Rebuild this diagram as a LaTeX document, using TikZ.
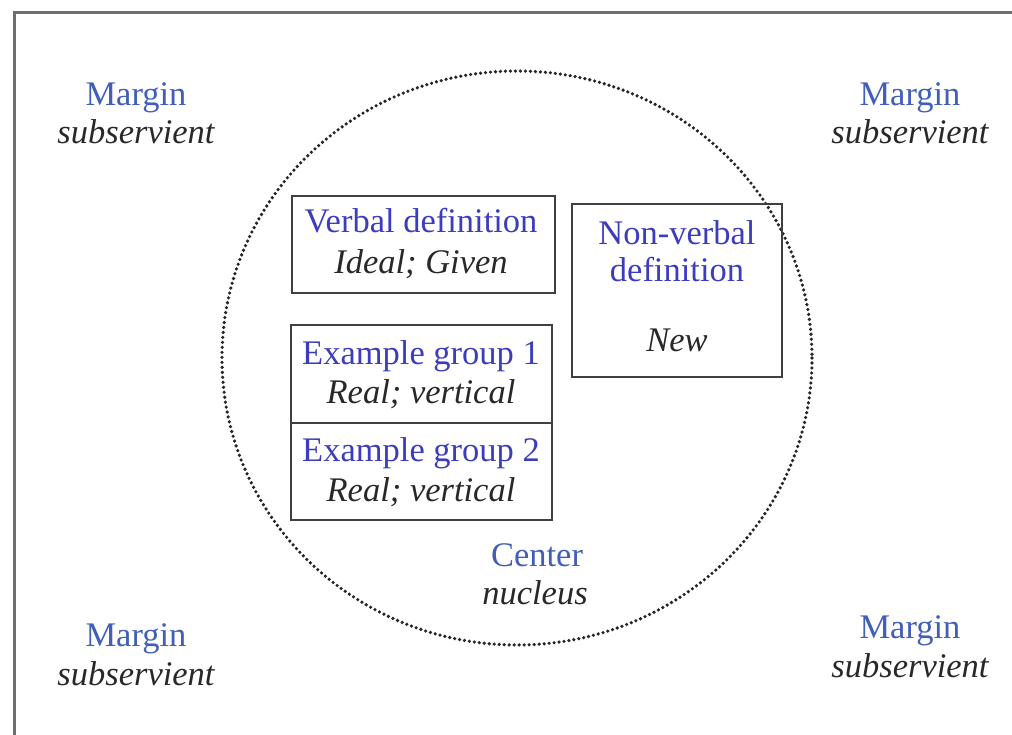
\documentclass[tikz,border=0pt]{standalone}
\usepackage{fontspec}
\setmainfont{Liberation Serif}
\definecolor{boxblue}{RGB}{60,60,190}
\definecolor{marblue}{RGB}{65,95,185}
\definecolor{txtgray}{RGB}{40,40,40}
\definecolor{framegray}{RGB}{110,110,110}
\begin{document}
\begin{tikzpicture}[x=1pt,y=-1pt,
  lbl/.style={font=\fontsize{34.5}{40}\selectfont,align=center,inner sep=0pt},
  bx/.style={draw=black!75,line width=1.6pt},
  ttl/.style={text=boxblue},
  sub/.style={text=txtgray,font=\fontsize{34.5}{40}\selectfont\itshape},
]
\useasboundingbox (0,0) rectangle (1012,735);
% frame (top and left visible)
\draw[framegray,line width=3pt] (14,735) -- (14,13) -- (1012,13);
% dotted circle
\draw[black!85,line width=3.6pt,line cap=round,dash pattern=on 0pt off 5pt] (517,358) ellipse [x radius=295,y radius=287];
% boxes
\node[bx,inner sep=0pt,minimum width=263pt,minimum height=97pt] (vd) at (423.5,244.5) {};
\node[bx,inner sep=0pt,minimum width=261pt,minimum height=98pt] (eg1) at (421.5,374) {};
\node[bx,inner sep=0pt,minimum width=261pt,minimum height=97pt] (eg2) at (421.5,471.5) {};
\node[bx,inner sep=0pt,minimum width=210pt,minimum height=173pt] (nv) at (677,290.5) {};
% box texts
\node[lbl,ttl,anchor=base] (vdt) at (421,233) {Verbal definition};
\node[lbl,sub,anchor=base] (vds) at (421,274) {Ideal; Given};
\node[lbl,ttl,anchor=base] (eg1t) at (421,364) {Example group 1};
\node[lbl,sub,anchor=base] (eg1s) at (421,403) {Real; vertical};
\node[lbl,ttl,anchor=base] (eg2t) at (421,461) {Example group 2};
\node[lbl,sub,anchor=base] (eg2s) at (421,501) {Real; vertical};
\node[lbl,ttl,anchor=base] (nvt1) at (677,245) {Non-verbal};
\node[lbl,ttl,anchor=base] (nvt2) at (677,282) {definition};
\node[lbl,sub,anchor=base] (nvs) at (677,352) {New};
% center
\node[lbl,text=marblue,anchor=base] (ct) at (537,566) {Center};
\node[lbl,sub,anchor=base] (cs) at (535,604) {nucleus};
% margins
\node[lbl,text=marblue,anchor=base] (m1) at (136,106) {Margin};
\node[lbl,sub,anchor=base] (s1) at (136,144) {subservient};
\node[lbl,text=marblue,anchor=base] (m2) at (910,106) {Margin};
\node[lbl,sub,anchor=base] (s2) at (910,144) {subservient};
\node[lbl,text=marblue,anchor=base] (m3) at (136,646) {Margin};
\node[lbl,sub,anchor=base] (s3) at (136,685) {subservient};
\node[lbl,text=marblue,anchor=base] (m4) at (910,638) {Margin};
\node[lbl,sub,anchor=base] (s4) at (910,677) {subservient};
\end{tikzpicture}
\end{document}
